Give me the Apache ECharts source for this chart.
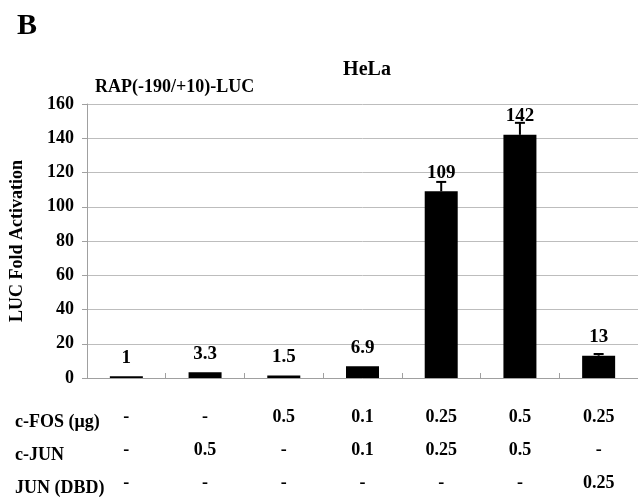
<!DOCTYPE html>
<html><head><meta charset="utf-8">
<script src="https://cdn.jsdelivr.net/npm/echarts@6/dist/echarts.min.js"></script>
<style>html,body{margin:0;padding:0;background:#fff}#c{width:638px;height:500px}</style>
</head><body><div id="c"></div>
<script>
const values = [1, 3.3, 1.5, 6.9, 109, 142, 13];
const errors = [0, 0, 0, 0, 5.5, 7, 1];
const valueLabels = ['1', '3.3', '1.5', '6.9', '109', '142', '13'];
const cFos = ['-', '-', '0.5', '0.1', '0.25', '0.5', '0.25'];
const cJun = ['-', '0.5', '-', '0.1', '0.25', '0.5', '-'];
const junDbd = ['-', '-', '-', '-', '-', '-', '0.25'];
const rowNames = ['c-FOS (\u03bcg)', 'c-JUN', 'JUN (DBD)'];
const yMin = 0, yMax = 160, yStep = 20;

const FONT = "'Times New Roman', 'Liberation Serif', serif";
const categories = values.map((v, i) => cFos[i] + '\n' + cJun[i] + '\n' + junDbd[i]);

const chart = echarts.init(document.getElementById('c'), null, {renderer: 'canvas'});
chart.setOption({
  animation: false,
  backgroundColor: '#fff',
  grid: {left: 86, top: 104, width: 560, height: 280, containLabel: false},
  title: [
    {text: 'B', left: 12, top: 6, textStyle: {fontFamily: FONT, fontWeight: 'bold', fontSize: 30, color: '#000'}},
    {text: 'HeLa', left: 362, top: 55, textAlign: 'center', textStyle: {fontFamily: FONT, fontWeight: 'bold', fontSize: 20, color: '#000'}},
    {text: 'RAP(-190/+10)-LUC', left: 90, top: 73, textStyle: {fontFamily: FONT, fontWeight: 'bold', fontSize: 18, color: '#000'}}
  ],
  graphic: rowNames.map((n, k) => ({
    type: 'text', left: 15, top: 413 + k * 33,
    style: {text: n, font: 'bold 18px ' + FONT, fill: '#000'}
  })),
  xAxis: {
    type: 'category', data: categories,
    axisLine: {lineStyle: {color: '#a0a0a0', width: 1}},
    axisTick: {show: true, inside: true, length: 5, lineStyle: {color: '#a0a0a0'}},
    axisLabel: {interval: 0, margin: 23, lineHeight: 33, fontFamily: FONT, fontWeight: 'bold', fontSize: 18, color: '#000'}
  },
  yAxis: {
    type: 'value', min: yMin, max: yMax, interval: yStep,
    name: 'LUC Fold Activation', nameLocation: 'middle', nameRotate: 90, nameGap: 61,
    nameTextStyle: {fontFamily: FONT, fontWeight: 'bold', fontSize: 18, color: '#000'},
    axisLine: {show: true, lineStyle: {color: '#a0a0a0'}},
    axisTick: {show: true, length: 5, lineStyle: {color: '#a0a0a0'}},
    splitLine: {lineStyle: {color: '#bdbdbd', width: 1}},
    axisLabel: {margin: 13, fontFamily: FONT, fontWeight: 'bold', fontSize: 18, color: '#000'}
  },
  series: [
    {
      type: 'bar', data: values, barWidth: 33,
      itemStyle: {color: '#000'},
      label: {show: true, position: 'top', distance: 9, formatter: p => valueLabels[p.dataIndex],
        fontFamily: FONT, fontWeight: 'bold', fontSize: 19, color: '#000'}
    },
    {
      type: 'custom', z: 5,
      data: values.map((v, i) => [i, v, errors[i]]),
      renderItem: function (params, api) {
        const i = api.value(0), v = api.value(1), e = api.value(2);
        if (!(e > 0)) return null;
        const b = api.coord([i, v]);
        const t = api.coord([i, v + e]);
        return {type: 'group', children: [
          {type: 'line', shape: {x1: b[0], y1: b[1], x2: t[0], y2: t[1]}, style: {stroke: '#000', lineWidth: 2}},
          {type: 'line', shape: {x1: t[0] - 5, y1: t[1], x2: t[0] + 5, y2: t[1]}, style: {stroke: '#000', lineWidth: 2}}
        ]};
      }
    }
  ]
});
</script></body></html>
